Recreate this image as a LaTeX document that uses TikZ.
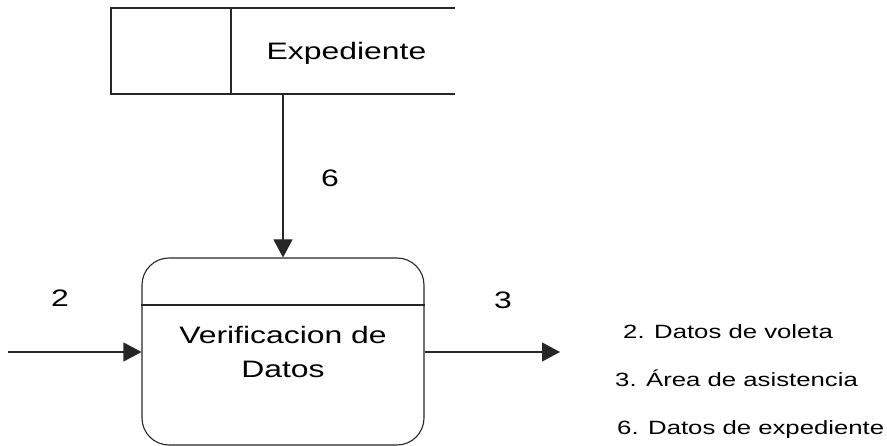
\documentclass[tikz,border=0pt]{standalone}
\usepackage{fontspec}
\setmainfont{Liberation Sans}[FakeStretch=1.34]
\usetikzlibrary{arrows.meta}
\tikzset{
  ln/.style={draw=black!85, line width=1.1pt},
  flow/.style={ln, -{Triangle[length=18pt,width=19pt]}},
  big/.style={font=\fontsize{23.8}{34}\selectfont, inner sep=0pt, anchor=base},
  lgd/.style={font=\fontsize{19.2}{24}\selectfont, inner sep=0pt, anchor=base west},
  procbox/.style={ln, rounded corners=27pt, minimum width=282pt, minimum height=187pt, inner sep=0pt}
}
\begin{document}
\begin{tikzpicture}[x=1pt,y=-1pt]
\useasboundingbox (0,0) rectangle (887,446);
% data store
\draw[ln] (455,8) -- (111,8) -- (111,94) -- (455,94);
\draw[ln] (231,8) -- (231,94);
\node[big] (store) at (346.5,59.5) {Expediente};
\coordinate (storebot) at (283,94);
% process
\node[procbox] (proc) at (283,351.5) {};
\draw[ln] (proc.west |- 0,305) -- (proc.east |- 0,305);
\node[big, align=center, anchor=center] (proctext) at (283,352) {Verificacion de\\Datos};
% flows
\coordinate (inL) at (8,352);
\coordinate (outR) at (560,352);
\draw[flow] (storebot) -- (proc.north);
\draw[flow] (inL) -- (inL -| proc.west);
\draw[flow] (outR -| proc.east) -- (outR);
\node[big] (l6) at (330,187) {6};
\node[big] (l2) at (60,307) {2};
\node[big] (l3) at (503,309) {3};
% legend
\node[lgd] (g2) at (623,339) {2. Datos de voleta};
\node[lgd] (g3) at (615,387) {3. Área de asistencia};
\node[lgd] (g6) at (617,435) {6. Datos de expediente};
\end{tikzpicture}
\end{document}
